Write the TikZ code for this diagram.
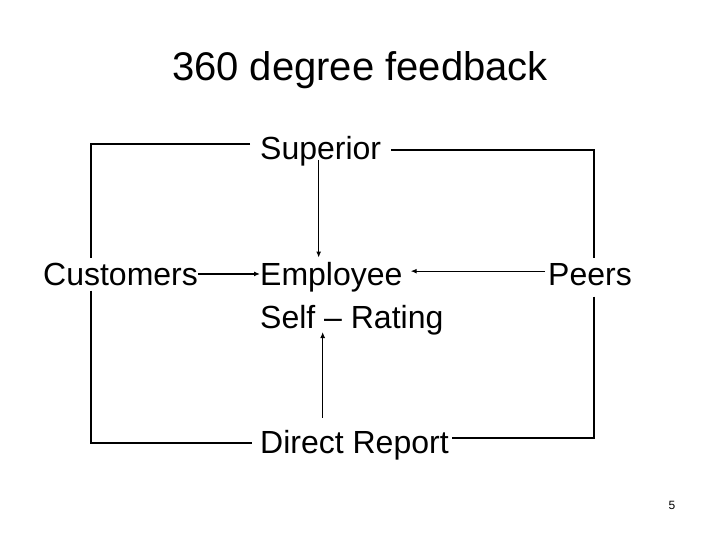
\documentclass[tikz,border=0pt]{standalone}
\usepackage{fontspec}
\setmainfont{Liberation Sans}
\usetikzlibrary{positioning,calc,arrows.meta}

\begin{document}
\begin{tikzpicture}[x=1pt, y=-1pt,
    every node/.style = {inner sep=0pt, anchor=base west,
      font=\fontsize{32}{38}\selectfont},
    frame/.style = {draw, line width=1.2pt},
    link/.style = {draw, line width=1.2pt, -{Latex[length=6pt,width=5pt]}}]
  \useasboundingbox (0,0) rectangle (720,540);

  \node (title) [anchor=base, font=\fontsize{40}{48}\selectfont] at (360,81) {360 degree feedback};
  \node (sup)   at (260,160) {Superior};
  \node (cust)  at (43,285)  {Customers};
  \node (emp)   at (260,285) {Employee};
  \node (self)  at (260,328) {Self -- Rating};
  \node (peers) at (548,285) {Peers};
  \node (dr)    at (260,453) {Direct Report};
  \node (page)  [anchor=base, font=\fontsize{12}{14}\selectfont] at (672,509) {5};

  % corners of the frame
  \coordinate (nw) at (91,144);
  \coordinate (ne) at (594,150);
  \coordinate (sw) at (91,443);
  \coordinate (se) at (594,438);

  \draw[frame] ($(sup.west |- nw)+(-10,0)$) -- (nw) -- ($(nw |- cust.north)+(0,-4)$);
  \draw[frame] ($(nw |- cust.south)+(0,5)$) -- (sw) -- ($(dr.west |- sw)+(-8,0)$);
  \draw[frame] ($(sup.east |- ne)+(10,0)$) -- (ne) -- ($(ne |- peers.north)+(0,-5)$);
  \draw[frame] ($(ne |- peers.south)+(0,11)$) -- (se) -- ($(dr.east |- se)+(3,0)$);

  \draw[link] ($(sup.base)+(-2,0)$) -- ($(sup.base |- emp.north)+(-2,-4)$);
  \draw[link] (cust.east) -- (cust.east -| emp.west);
  \draw[link] ($(peers.west)+(-3,-3)$) -- ($(peers.west -| emp.east)+(8,-3)$);
  \draw[link] ($(dr.north -| sup.base)+(2,-12)$) -- ($(self.base -| sup.base)+(2,4)$);
\end{tikzpicture}
\end{document}
